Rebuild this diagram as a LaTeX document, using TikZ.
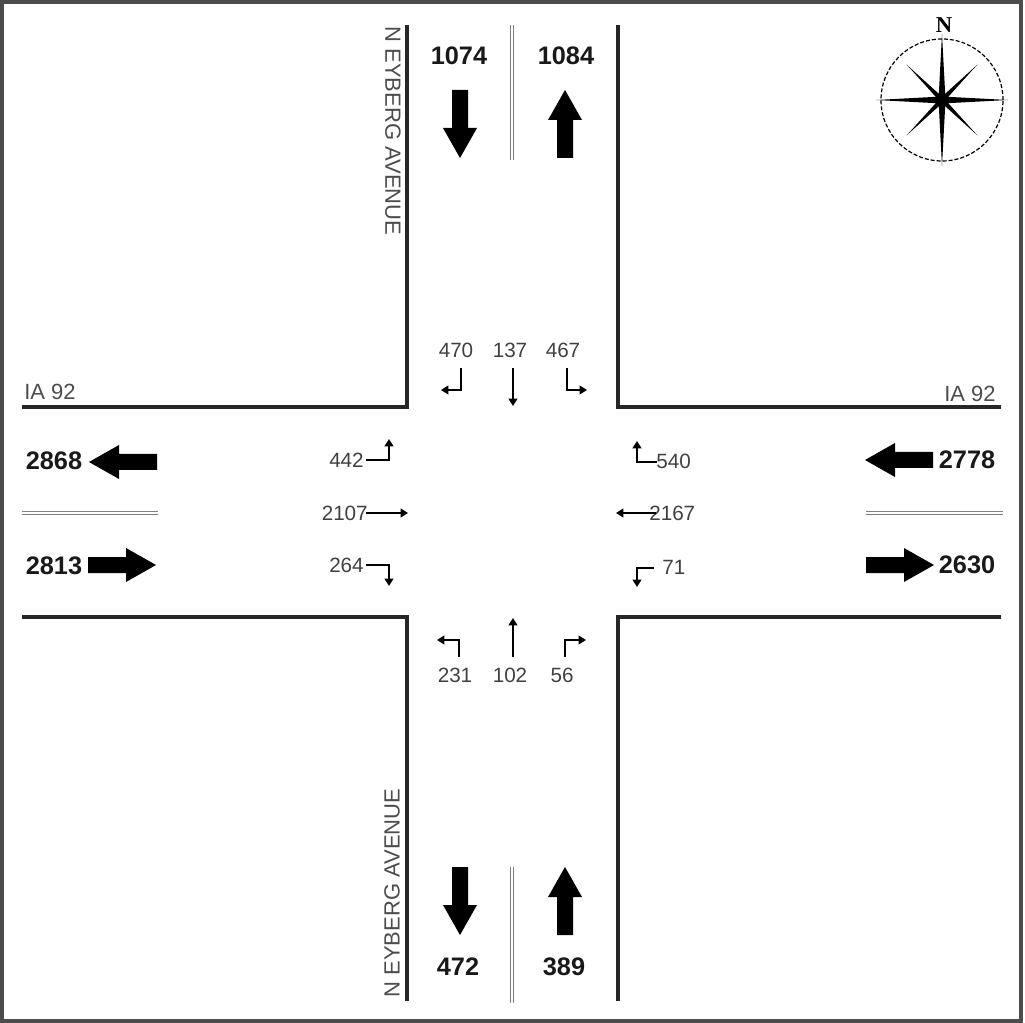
\documentclass[tikz,border=0pt]{standalone}
\usepackage{fontspec}
\setmainfont{Liberation Sans}
\newfontfamily\serifN{Liberation Serif}
\usetikzlibrary{arrows.meta}
\begin{document}
\begin{tikzpicture}[x=0.75pt,y=-0.75pt,
  road/.style={line width=2.3pt, draw=black!85},
  median/.style={draw=gray, line width=0.9pt, double=white, double distance=1.4pt},
  vol/.style={font=\fontsize{19}{22}\selectfont\bfseries, text=black!90, inner sep=0pt},
  turnlbl/.style={font=\fontsize{15.5}{18}\selectfont, text=black!75, inner sep=0pt},
  roadname/.style={font=\fontsize{16.5}{19}\selectfont, text=black!70, inner sep=0pt},
  turn/.style={line width=2.2pt, draw=black, -{Triangle[length=5.5pt,width=6.5pt]}},
  bigarrow/.pic={\fill[black] (0,-8) -- (38,-8) -- (38,-17) -- (68,0) -- (38,17) -- (38,8) -- (0,8) -- cycle;}
]
\useasboundingbox (0,0) rectangle (1025,1023);
% frame
\draw[line width=2.5pt, draw=black!70] (2,2) rectangle (1021,1021);

% road edges
\draw[road] (407,25) -- (407,407) -- (22,407);
\draw[road] (618,25) -- (618,407) -- (1001,407);
\draw[road] (22,617) -- (407,617) -- (407,1001);
\draw[road] (1001,617) -- (618,617) -- (618,1001);

% medians
\draw[median] (512,25) -- (512,160);
\draw[median] (512,867) -- (512,1003);
\draw[median] (22,513) -- (158,513);
\draw[median] (866,513) -- (1003,513);

% big arrows
\pic[rotate=-90] at (460,90) {bigarrow};
\pic[rotate=90] at (565,158) {bigarrow};
\pic[rotate=-90] at (460,867) {bigarrow};
\pic[rotate=90] at (565,935) {bigarrow};
\pic[rotate=180] at (157,462) {bigarrow};
\pic at (88,565) {bigarrow};
\pic[rotate=180] at (933,460) {bigarrow};
\pic at (866,565) {bigarrow};

% volume labels
\node[vol] (v1074) at (459,56) {1074};
\node[vol] (v1084) at (566,56) {1084};
\node[vol] (v472) at (458,967) {472};
\node[vol] (v389) at (564,967) {389};
\node[vol] (v2868) at (54,461) {2868};
\node[vol] (v2813) at (54,566) {2813};
\node[vol] (v2778) at (967,460) {2778};
\node[vol] (v2630) at (967,565) {2630};

% road names
\node[roadname, rotate=-90] (nameN) at (393,131) {N EYBERG AVENUE};
\node[roadname, rotate=90] (nameS) at (392,893) {N EYBERG AVENUE};
\node[roadname] (iaW) at (50,392) {IA 92};
\node[roadname] (iaE) at (970,394) {IA 92};

% turning movement labels
\node[turnlbl] (t470) at (456,350) {470};
\node[turnlbl] (t137) at (510,350) {137};
\node[turnlbl] (t467) at (563,350) {467};
\node[turnlbl] (t231) at (455,675) {231};
\node[turnlbl] (t102) at (510,675) {102};
\node[turnlbl] (t56) at (562,675) {56};
\node[turnlbl, anchor=east] (t442) at (364,460) {442};
\node[turnlbl, anchor=east] (t2107) at (368,513) {2107};
\node[turnlbl, anchor=east] (t264) at (364,565) {264};
\node[turnlbl, anchor=west] (t540) at (656,461) {540};
\node[turnlbl, anchor=west] (t2167) at (649,513) {2167};
\node[turnlbl, anchor=west] (t71) at (662,567) {71};

% turning arrows - north approach
\draw[turn] (461,368) -- (461,390) -- (441,390);
\draw[turn] (513,368) -- (513,406);
\draw[turn] (567,368) -- (567,390) -- (587,390);
% south approach
\draw[turn] (459,657) -- (459,640) -- (437,640);
\draw[turn] (513,657) -- (513,618);
\draw[turn] (565,657) -- (565,640) -- (586,640);
% west approach
\draw[turn] (366,460) -- (389,460) -- (389,439);
\draw[turn] (366,513) -- (408,513);
\draw[turn] (366,565) -- (389,565) -- (389,586);
% east approach
\draw[turn] (657,462) -- (637,462) -- (637,441);
\draw[turn] (656,513) -- (616,513);
\draw[turn] (654,568) -- (637,568) -- (637,587);

% compass rose
\begin{scope}[shift={(942,100)}]
  \draw[line width=0.9pt, dash pattern=on 3pt off 1.5pt] (0,0) circle (45.75pt);
  \foreach \a in {0,90,180,270}
    \fill[black, rotate=\a] (0,3.5) -- (66,0) -- (0,-3.5) -- cycle;
  \foreach \a in {45,135,225,315}
    \fill[black, rotate=\a] (0,2.5) -- (50,0) -- (0,-2.5) -- cycle;
\end{scope}
\node[font=\serifN\fontsize{17}{17}\selectfont\bfseries, inner sep=0pt] (northN) at (944,25) {N};
\end{tikzpicture}
\end{document}
